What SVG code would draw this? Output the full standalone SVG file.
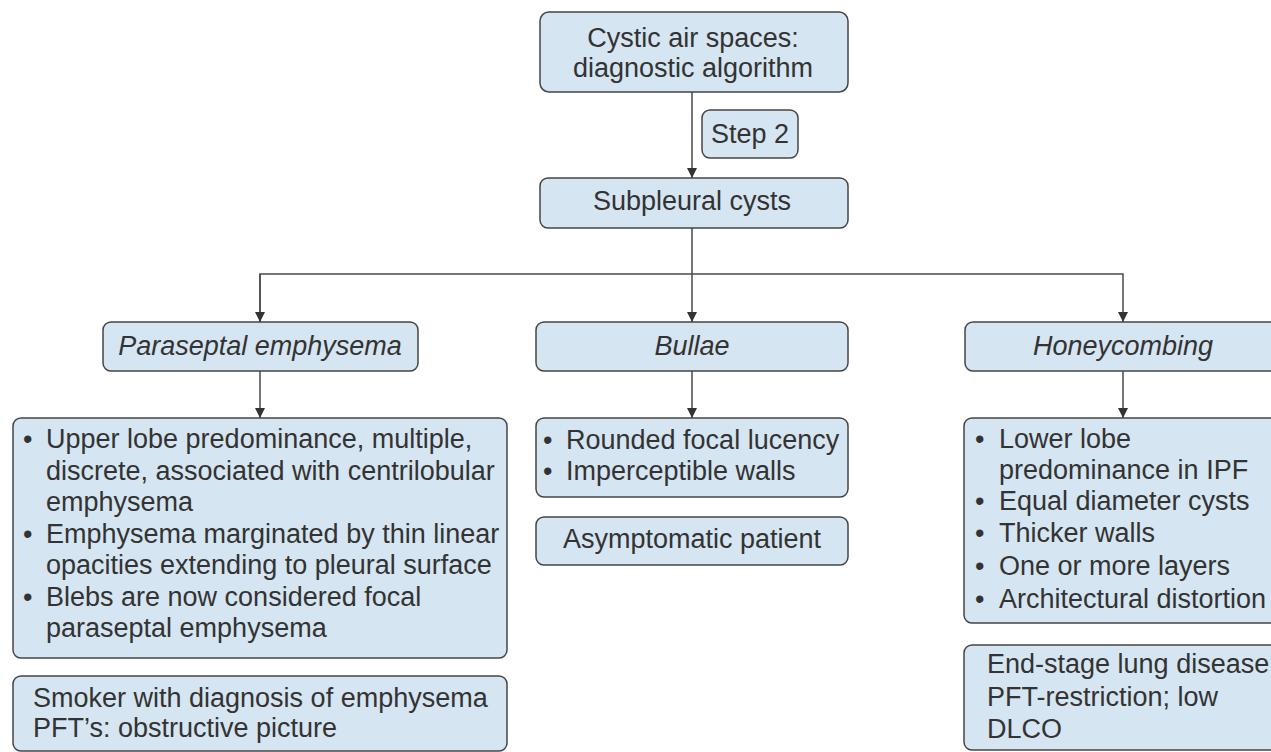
<svg xmlns="http://www.w3.org/2000/svg" width="1271" height="752" viewBox="0 0 1271 752">
<defs>
<style>
.box{fill:#d5e5f1;stroke:#454545;stroke-width:1.5}
.t{font-family:"Liberation Sans",Arial,Helvetica,sans-serif;font-size:27px;fill:#333}
.c{text-anchor:middle}
.i{font-style:italic}
.ln{fill:none;stroke:#4a4a4a;stroke-width:1.5}
</style>
<marker id="ah" viewBox="0 0 10 10" refX="10" refY="5" markerWidth="10" markerHeight="10" markerUnits="userSpaceOnUse" orient="auto">
<path d="M0,0 L10,5 L0,10 z" fill="#333"/>
</marker>
</defs>
<rect width="1271" height="752" fill="#fff"/>
<g id="connectors">
<line class="ln" x1="692" y1="92" x2="692" y2="178" marker-end="url(#ah)"/>
<polyline class="ln" points="692,228 692,274"/>
<polyline class="ln" points="260,322 260,274 1123,274 1123,322" marker-end="url(#ah)"/>
<line class="ln" x1="260" y1="274" x2="260" y2="322" marker-end="url(#ah)"/>
<line class="ln" x1="692" y1="274" x2="692" y2="322" marker-end="url(#ah)"/>
<line class="ln" x1="260" y1="371" x2="260" y2="418" marker-end="url(#ah)"/>
<line class="ln" x1="692" y1="371" x2="692" y2="418" marker-end="url(#ah)"/>
<line class="ln" x1="1123" y1="371" x2="1123" y2="418" marker-end="url(#ah)"/>
</g>
<g id="n-top">
<rect class="box" x="540" y="12" width="308" height="80" rx="9"/>
<text class="t c" x="693" y="47">Cystic air spaces:</text>
<text class="t c" x="693" y="77">diagnostic algorithm</text>
</g>
<g id="n-step2">
<rect class="box" x="702" y="110" width="96" height="48" rx="8"/>
<text class="t c" x="750" y="143">Step 2</text>
</g>
<g id="n-subpleural">
<rect class="box" x="540" y="178" width="308" height="50" rx="8"/>
<text class="t c" x="692" y="210">Subpleural cysts</text>
</g>
<g id="n-paraseptal">
<rect class="box" x="103" y="322" width="315" height="49" rx="8"/>
<text class="t c i" x="260" y="355">Paraseptal emphysema</text>
</g>
<g id="n-bullae">
<rect class="box" x="536" y="322" width="312" height="49" rx="8"/>
<text class="t c i" x="692" y="355">Bullae</text>
</g>
<g id="n-honeycombing">
<rect class="box" x="965" y="322" width="316" height="49" rx="8"/>
<text class="t c i" x="1123" y="355">Honeycombing</text>
</g>
<g id="n-paraseptal-features">
<rect class="box" x="13" y="418" width="494" height="240" rx="8"/>
<text class="t" x="23" y="448">•</text><text class="t" x="46" y="448">Upper lobe predominance, multiple,</text>
<text class="t" x="46" y="479.5">discrete, associated with centrilobular</text>
<text class="t" x="46" y="511">emphysema</text>
<text class="t" x="23" y="542.5">•</text><text class="t" x="46" y="542.5">Emphysema marginated by thin linear</text>
<text class="t" x="46" y="574">opacities extending to pleural surface</text>
<text class="t" x="23" y="605.5">•</text><text class="t" x="46" y="605.5">Blebs are now considered focal</text>
<text class="t" x="46" y="637">paraseptal emphysema</text>
</g>
<g id="n-smoker">
<rect class="box" x="13" y="676" width="494" height="75" rx="8"/>
<text class="t" x="33" y="707">Smoker with diagnosis of emphysema</text>
<text class="t" x="33" y="737">PFT’s: obstructive picture</text>
</g>
<g id="n-bullae-features">
<rect class="box" x="536" y="418" width="312" height="79" rx="8"/>
<text class="t" x="543" y="449">•</text><text class="t" x="566" y="449">Rounded focal lucency</text>
<text class="t" x="543" y="480">•</text><text class="t" x="566" y="480">Imperceptible walls</text>
</g>
<g id="n-asymptomatic">
<rect class="box" x="536" y="517" width="312" height="48" rx="8"/>
<text class="t c" x="692" y="548">Asymptomatic patient</text>
</g>
<g id="n-honeycombing-features">
<rect class="box" x="964" y="418" width="318" height="205" rx="8"/>
<text class="t" x="975" y="448">•</text><text class="t" x="999" y="448">Lower lobe</text>
<text class="t" x="999" y="479">predominance in IPF</text>
<text class="t" x="975" y="510">•</text><text class="t" x="999" y="510">Equal diameter cysts</text>
<text class="t" x="975" y="542">•</text><text class="t" x="999" y="542">Thicker walls</text>
<text class="t" x="975" y="575">•</text><text class="t" x="999" y="575">One or more layers</text>
<text class="t" x="975" y="608">•</text><text class="t" x="999" y="608">Architectural distortion</text>
</g>
<g id="n-endstage">
<rect class="box" x="964" y="645" width="318" height="105" rx="8"/>
<text class="t" x="987" y="673">End-stage lung disease</text>
<text class="t" x="987" y="706">PFT-restriction; low</text>
<text class="t" x="987" y="738">DLCO</text>
</g>
</svg>
